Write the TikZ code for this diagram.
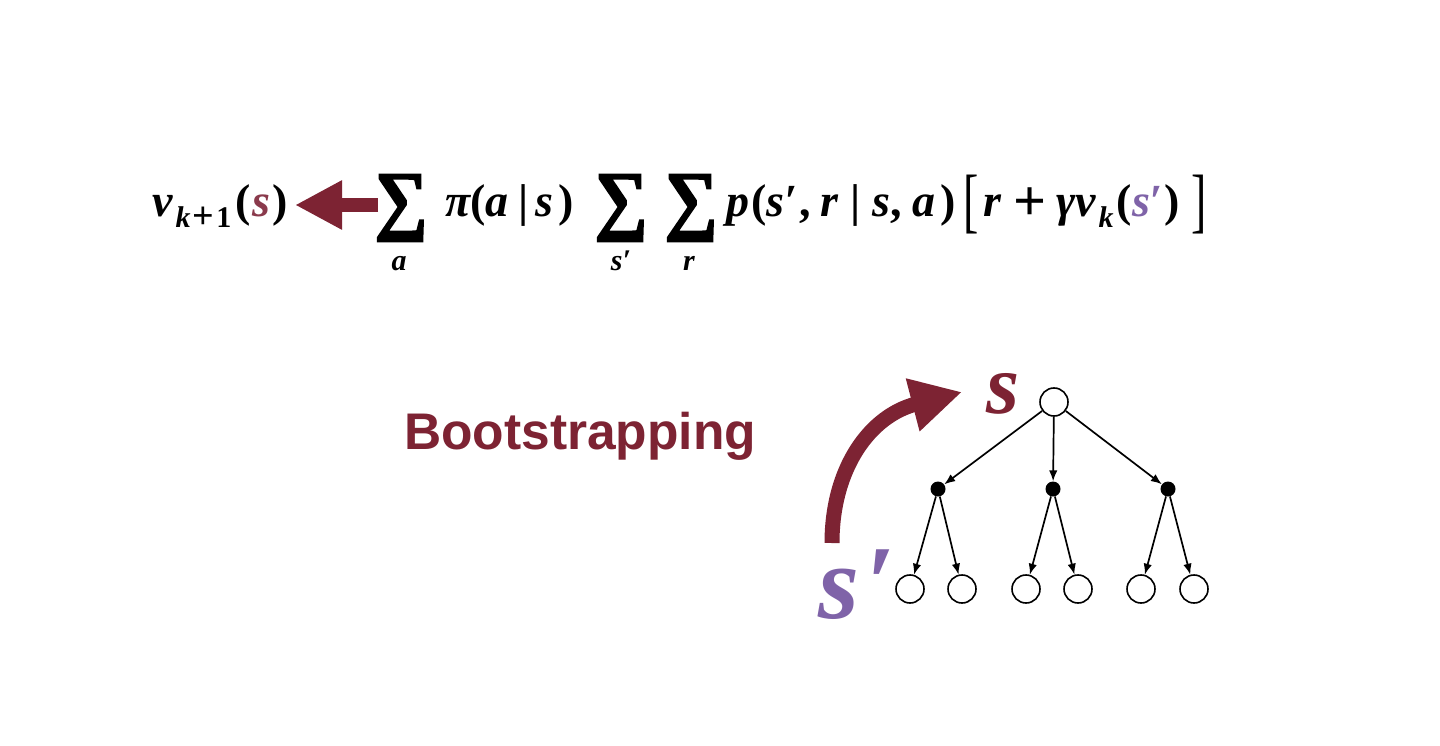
\documentclass[tikz,border=0pt]{standalone}
\usepackage{fontspec}
\usepackage{graphicx}
\setmainfont{Liberation Serif}
\newfontfamily\sansfam{Liberation Sans}
\newfontfamily\sumfam{Liberation Serif}[FakeBold=2.5]
\usetikzlibrary{arrows.meta}
\definecolor{dred}{HTML}{7D2333}
\definecolor{sred}{HTML}{8A3A4C}
\definecolor{purp}{HTML}{7F63A8}
\newcommand\hs[1]{\hspace{#1pt}}
\newcommand\up[1]{{\upshape #1}}
\newcommand\subk[1]{\raisebox{-10pt}{\fontsize{30}{30}\selectfont #1}}
\newcommand\bigplus[2]{\raisebox{#2pt}{\upshape\fontsize{#1}{#1}\selectfont +}}
\begin{document}
\begin{tikzpicture}[x=1pt,y=-1pt,
  eq/.style={inner sep=0pt, anchor=base west, font=\fontsize{46}{46}\selectfont\bfseries\itshape},
  sub/.style={inner sep=0pt, anchor=base, font=\fontsize{30}{30}\selectfont\bfseries\itshape},
  sumst/.style={inner sep=0pt, anchor=center, font=\sumfam\bfseries\fontsize{46}{46}\selectfont},
  brk/.style={inner sep=0pt, anchor=center, font=\fontsize{46}{46}\selectfont},
  state/.style={draw, circle, line width=1.6pt, minimum size=28pt, inner sep=0pt, fill=white},
  act/.style={circle, fill=black, minimum size=15pt, inner sep=0pt},
  tedge/.style={-{Latex[length=11pt,width=8.5pt]}, line width=1.7pt, black},
  lbl/.style={inner sep=0pt, anchor=base west, font=\bfseries\itshape}
]
\useasboundingbox[fill=white] (0,0) rectangle (1440,746);

% equation
\node[eq] (v) at (152,217) {v\hs{3}\subk{k\hs{2}\bigplus{38}{-2}\hs{2}\up{1}}\hs{4}\up{(}\hs{2}\textcolor{sred}{s}\hs{2}\up{)}};
\node[sumst] (S1) at (401,208) {\resizebox*{53pt}{67pt}{∑}};
\node[sub] (a1) at (399,270) {a};
\node[eq] (pi) at (445,217) {π\up{(}a\hs{10}\up{|}\hs{7}s\hs{5}\up{)}};
\node[sumst] (S2) at (621,208) {\resizebox*{53pt}{67pt}{∑}};
\node[sub] (a2) at (621,270) {s′};
\node[sumst] (S3) at (691,208) {\resizebox*{53pt}{67pt}{∑}};
\node[sub] (a3) at (689,270) {r};
\node[eq] (p) at (726,217) {p\hs{2}\up{(}s′\hs{2}\up{,}\hs{10}r\hs{12}\up{|}\hs{12}s\up{,}\hs{10}a\hs{5}\up{)}};
\node[brk] (lb) at (971,205) {\scalebox{1}[1.55]{[}};
\node[eq] (in) at (983,217) {r\hs{12}\bigplus{58}{-4}\hs{10}γv\hs{3}\subk{k}\hs{3}\up{(}\textcolor{purp}{s′}\hs{2}\up{)}};
\node[brk] (rb) at (1199,205) {\scalebox{1}[1.55]{]}};

\coordinate (arrTail) at (378,205);
\coordinate (arrTip) at (295,205);
\draw[dred, line width=14pt, -{Triangle[length=47pt,width=46pt]}] (arrTail) -- (arrTip);

% Bootstrapping
\node[inner sep=0pt, anchor=base west, text=dred, font=\sansfam\bfseries\fontsize{51.5}{51.5}\selectfont] (boot) at (404,449) {Bootstrapping};

% tree
\node[state] (R) at (1054,402) {};
\node[act] (A1) at (938,489) {};
\node[act] (A2) at (1053,489) {};
\node[act] (A3) at (1168,489) {};
\node[state] (L1) at (910,589) {};
\node[state] (L2) at (962,589) {};
\node[state] (L3) at (1026,589) {};
\node[state] (L4) at (1078,589) {};
\node[state] (L5) at (1141,589) {};
\node[state] (L6) at (1194,589) {};
\draw[tedge] (R) -- (A1);
\draw[tedge] (R) -- (A2);
\draw[tedge] (R) -- (A3);
\draw[tedge] (A1) -- (L1);
\draw[tedge] (A1) -- (L2);
\draw[tedge] (A2) -- (L3);
\draw[tedge] (A2) -- (L4);
\draw[tedge] (A3) -- (L5);
\draw[tedge] (A3) -- (L6);

\node[lbl, text=dred, font=\bfseries\itshape\fontsize{85}{85}\selectfont] (sl) at (986,413) {s};
\node[lbl, text=purp, font=\bfseries\itshape\fontsize{105}{105}\selectfont] (spl) at (818,618) {s\hs{6}′};

\coordinate (cStart) at (832,543);
\coordinate (cTip) at (962,392);
\draw[dred, line width=15pt, -{Triangle[length=51pt,width=51pt]}] (cStart) .. controls (832,468) and (870,416) .. (cTip);
\end{tikzpicture}
\end{document}
